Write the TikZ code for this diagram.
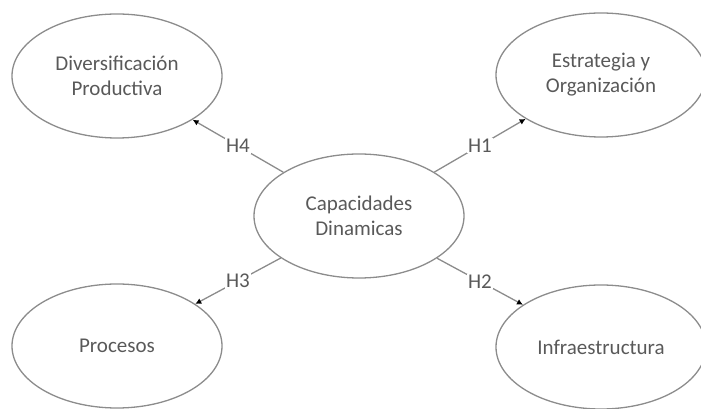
\documentclass[tikz,border=0pt]{standalone}
\usepackage{fontspec}
\setmainfont{Carlito}
\usetikzlibrary{shapes.geometric,arrows.meta}
\definecolor{linegray}{HTML}{8C8C8C}
\definecolor{textgray}{HTML}{595959}
\tikzset{
  cnode/.style = {ellipse, draw=linegray, line width=1.3pt, align=center, inner sep=0pt,
                  minimum width=210pt, minimum height=124pt, text=textgray,
                  font=\fontsize{21}{25}\selectfont},
  hlabel/.style = {fill=white, inner sep=1pt, text=textgray, font=\fontsize{21}{24}\selectfont},
  harrow/.style = {draw=linegray, line width=1.3pt, -{Latex[length=6pt,width=6pt,color=black]}}
}
\begin{document}
\begin{tikzpicture}[x=1pt,y=1pt]
\useasboundingbox (0,0) rectangle (701,409);
\node [cnode] (C) at (359,193) {Capacidades\\Dinamicas};
\node [cnode] (DP) at (117,333) {Diversificación\\Productiva};
\node [cnode] (EO) at (601,334) {Estrategia y\\Organización};
\node [cnode] (P) at (117,63) {Procesos};
\node [cnode] (I) at (601,62) {Infraestructura};
\draw [harrow] (C) -- node [hlabel] {H1} (EO);
\draw [harrow] (C) -- node [hlabel] {H2} (I);
\draw [harrow] (C) -- node [hlabel] {H3} (P);
\draw [harrow] (C) -- node [hlabel] {H4} (DP);
\end{tikzpicture}
\end{document}
